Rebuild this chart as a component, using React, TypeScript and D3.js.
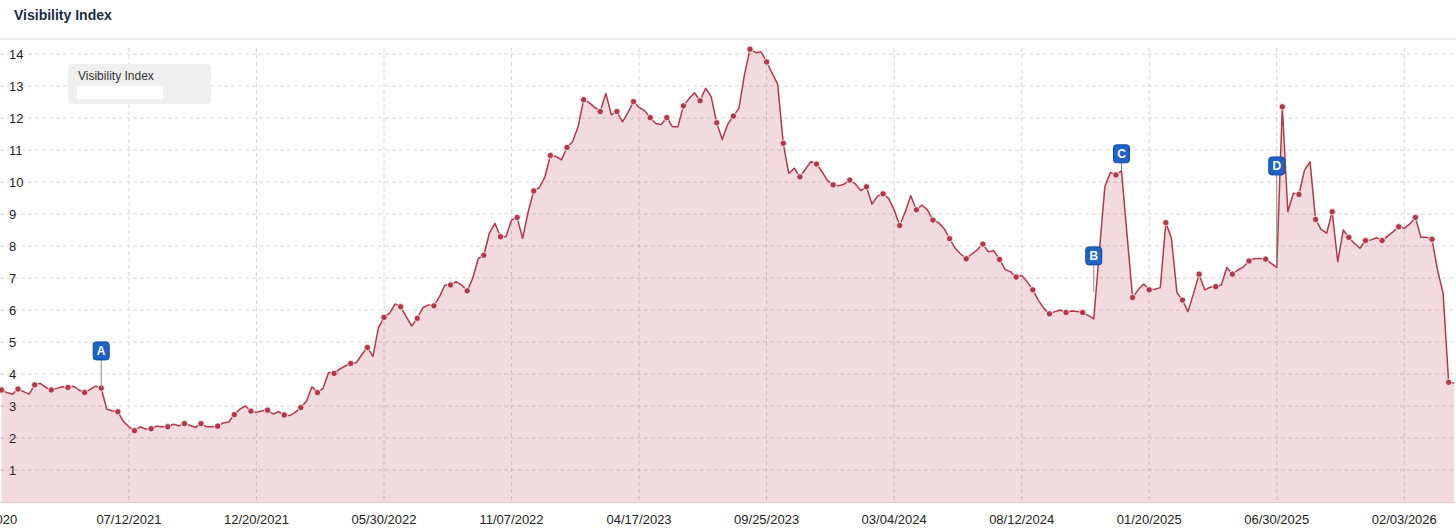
import React, { useEffect, useRef } from 'react';
import * as d3 from 'd3';

// weekly visibility index values (ordinal x axis, one entry per week)
const visibility = [
  3.5, 3.42, 3.37, 3.53, 3.45, 3.37, 3.66, 3.71, 3.58, 3.5,
  3.55, 3.6, 3.58, 3.62, 3.5, 3.42, 3.52, 3.62, 3.56, 2.9,
  2.85, 2.82, 2.52, 2.35, 2.23, 2.35, 2.28, 2.29, 2.37, 2.35,
  2.35, 2.43, 2.38, 2.45, 2.4, 2.33, 2.45, 2.35, 2.35, 2.37,
  2.47, 2.5, 2.73, 2.9, 3.0, 2.84, 2.8, 2.85, 2.87, 2.75,
  2.82, 2.72, 2.7, 2.8, 2.95, 3.15, 3.6, 3.42, 3.55, 4.05,
  4.02, 4.15, 4.25, 4.33, 4.35, 4.6, 4.83, 4.55, 5.45, 5.77,
  5.9, 6.19, 6.1, 5.79, 5.5, 5.74, 6.07, 6.16, 6.13, 6.42,
  6.78, 6.78, 6.89, 6.78, 6.6, 6.99, 7.61, 7.71, 8.4, 8.71,
  8.29, 8.29, 8.81, 8.89, 8.24, 9.07, 9.72, 9.82, 10.15, 10.83,
  10.8, 10.69, 11.08, 11.26, 11.73, 12.57, 12.48, 12.33, 12.2, 12.77,
  12.1, 12.2, 11.88, 12.17, 12.51, 12.33, 12.23, 12.01, 11.83, 11.8,
  12.01, 11.73, 11.73, 12.38, 12.6, 12.79, 12.54, 12.93, 12.67, 11.85,
  11.33, 11.81, 12.06, 12.3, 13.35, 14.15, 14.04, 14.07, 13.75, 13.4,
  13.05, 11.21, 10.27, 10.43, 10.16, 10.4, 10.64, 10.56, 10.32, 10.04,
  9.91, 9.88, 9.94, 10.06, 9.94, 9.73, 9.85, 9.31, 9.56, 9.63,
  9.49, 9.13, 8.64, 9.07, 9.57, 9.13, 9.28, 9.13, 8.81, 8.73,
  8.55, 8.23, 7.93, 7.75, 7.6, 7.75, 7.88, 8.06, 7.82, 7.85,
  7.58, 7.27, 7.19, 7.03, 7.08, 6.88, 6.63, 6.31, 6.05, 5.88,
  5.95, 6.0, 5.92, 5.97, 5.95, 5.92, 5.83, 5.72, 7.8, 9.85,
  10.3, 10.22, 10.35, 8.35, 6.39, 6.63, 6.81, 6.63, 6.65, 6.7,
  8.73, 8.24, 6.54, 6.31, 5.95, 6.52, 7.12, 6.63, 6.71, 6.73,
  6.78, 7.33, 7.12, 7.25, 7.35, 7.53, 7.61, 7.61, 7.59, 7.46,
  7.33, 12.35, 9.07, 9.65, 9.61, 10.37, 10.63, 8.83, 8.52, 8.4,
  9.07, 7.51, 8.5, 8.27, 8.08, 7.93, 8.17, 8.19, 8.26, 8.17,
  8.31, 8.45, 8.6, 8.55, 8.69, 8.89, 8.27, 8.27, 8.21, 7.25,
  6.52, 3.74, 3.72
];

const tickIndex = [-3, 23, 46, 69, 92, 115, 138, 161, 184, 207, 230, 253];
const tickLabels = [
  '12/28/2020', '07/12/2021', '12/20/2021', '05/30/2022', '11/07/2022', '04/17/2023',
  '09/25/2023', '03/04/2024', '08/12/2024', '01/20/2025', '06/30/2025', '02/03/2026'
];
const yTicks = [1, 2, 3, 4, 5, 6, 7, 8, 9, 10, 11, 12, 13, 14];

// event flags
const flagLetters = ['A', 'B', 'C', 'D'];
const flagIndex = [18, 197, 202, 230];
const flagBottom = [4.44, 7.41, 10.6, 10.22];
const flagStemEnd = [3.56, 6.56, 10.35, 7.33];

function App() {
  const svgRef = useRef<SVGSVGElement>(null);

  useEffect(() => {
    if (!svgRef.current) return;

    const width = 1456;
    const height = 532;
    const plotTop = 46;
    const plotBottom = 502;
    const lineColor = '#b5384a';
    const font = 'Arial, "Liberation Sans", sans-serif';

    d3.select(svgRef.current).selectAll('*').remove();

    const svg = d3.select(svgRef.current)
      .attr('width', width)
      .attr('height', height)
      .attr('viewBox', `0 0 ${width} ${height}`)
      .style('font-family', font);

    svg.append('rect')
      .attr('width', width)
      .attr('height', height)
      .attr('fill', '#fff');

    const x = d3.scaleLinear()
      .domain([0, 262])
      .range([1.4, 1.4 + 262 * 5.545]);

    const y = d3.scaleLinear()
      .domain([0, 14.25])
      .range([plotBottom, plotTop]);

    // header
    svg.append('text')
      .attr('x', 14)
      .attr('y', 20)
      .attr('font-size', '14px')
      .attr('font-weight', 'bold')
      .attr('fill', '#1c2b4a')
      .text('Visibility Index');

    svg.append('line')
      .attr('x1', 0).attr('x2', width)
      .attr('y1', 39).attr('y2', 39)
      .attr('stroke', '#e8e8e8')
      .attr('stroke-width', 1.5);

    // grid
    svg.append('g')
      .selectAll('line')
      .data(yTicks)
      .join('line')
      .attr('x1', 0).attr('x2', width)
      .attr('y1', d => y(d)).attr('y2', d => y(d))
      .attr('stroke', '#d6d6d6')
      .attr('stroke-dasharray', '4,3');

    svg.append('g')
      .selectAll('line')
      .data(tickIndex)
      .join('line')
      .attr('x1', d => x(d)).attr('x2', d => x(d))
      .attr('y1', plotTop + 2).attr('y2', plotBottom)
      .attr('stroke', '#d6d6d6')
      .attr('stroke-dasharray', '4,3');

    // series
    const area = d3.area<number>()
      .x((d, i) => x(i))
      .y0(plotBottom)
      .y1(d => y(d));

    svg.append('path')
      .datum(visibility)
      .attr('d', area)
      .attr('fill', lineColor)
      .attr('fill-opacity', 0.18);

    const line = d3.line<number>()
      .x((d, i) => x(i))
      .y(d => y(d));

    svg.append('path')
      .datum(visibility)
      .attr('d', line)
      .attr('fill', 'none')
      .attr('stroke', lineColor)
      .attr('stroke-width', 1.5)
      .attr('stroke-linejoin', 'round');

    svg.append('g')
      .selectAll('circle')
      .data(visibility.map((v, i) => ({ v, i })).filter(d => d.i % 3 === 0))
      .join('circle')
      .attr('cx', d => x(d.i))
      .attr('cy', d => y(d.v))
      .attr('r', 3.2)
      .attr('fill', lineColor)
      .attr('stroke', '#fff')
      .attr('stroke-width', 0.8);

    // x axis
    svg.append('line')
      .attr('x1', 0).attr('x2', width)
      .attr('y1', plotBottom + 0.5).attr('y2', plotBottom + 0.5)
      .attr('stroke', '#e3c9ce');

    svg.append('g')
      .selectAll('text')
      .data(tickIndex)
      .join('text')
      .attr('x', d => x(d))
      .attr('y', 524)
      .attr('text-anchor', 'middle')
      .attr('font-size', '13px')
      .attr('fill', '#222')
      .text((d, i) => tickLabels[i]);

    // y labels
    svg.append('g')
      .selectAll('text')
      .data(yTicks)
      .join('text')
      .attr('x', 9)
      .attr('y', d => y(d) + 4.5)
      .attr('font-size', '13px')
      .attr('fill', '#222')
      .text(d => d);

    // flags
    flagLetters.forEach((letter, k) => {
      const fx = x(flagIndex[k]);
      const fb = y(flagBottom[k]);
      svg.append('line')
        .attr('x1', fx).attr('x2', fx)
        .attr('y1', fb).attr('y2', y(flagStemEnd[k]))
        .attr('stroke', '#8a8a8a')
        .attr('stroke-width', 1);
      svg.append('rect')
        .attr('x', fx - 8)
        .attr('y', fb - 18)
        .attr('width', 16)
        .attr('height', 18)
        .attr('rx', 3)
        .attr('fill', '#1f63c6')
        .attr('stroke', '#144a9e')
        .attr('stroke-width', 1);
      svg.append('text')
        .attr('x', fx)
        .attr('y', fb - 5)
        .attr('text-anchor', 'middle')
        .attr('font-size', '12px')
        .attr('font-weight', 'bold')
        .attr('fill', '#fff')
        .text(letter);
    });

    // legend
    svg.append('rect')
      .attr('x', 68).attr('y', 64)
      .attr('width', 143).attr('height', 40)
      .attr('rx', 4)
      .attr('fill', '#efefef');

    svg.append('text')
      .attr('x', 78)
      .attr('y', 80)
      .attr('font-size', '12px')
      .attr('fill', '#333')
      .text('Visibility Index');

    svg.append('rect')
      .attr('x', 77).attr('y', 86)
      .attr('width', 86).attr('height', 13)
      .attr('fill', '#fff');
  }, []);

  return (
    <div style={{ position: 'absolute', left: 0, top: 0 }}>
      <svg ref={svgRef}></svg>
    </div>
  );
}

export default App;
